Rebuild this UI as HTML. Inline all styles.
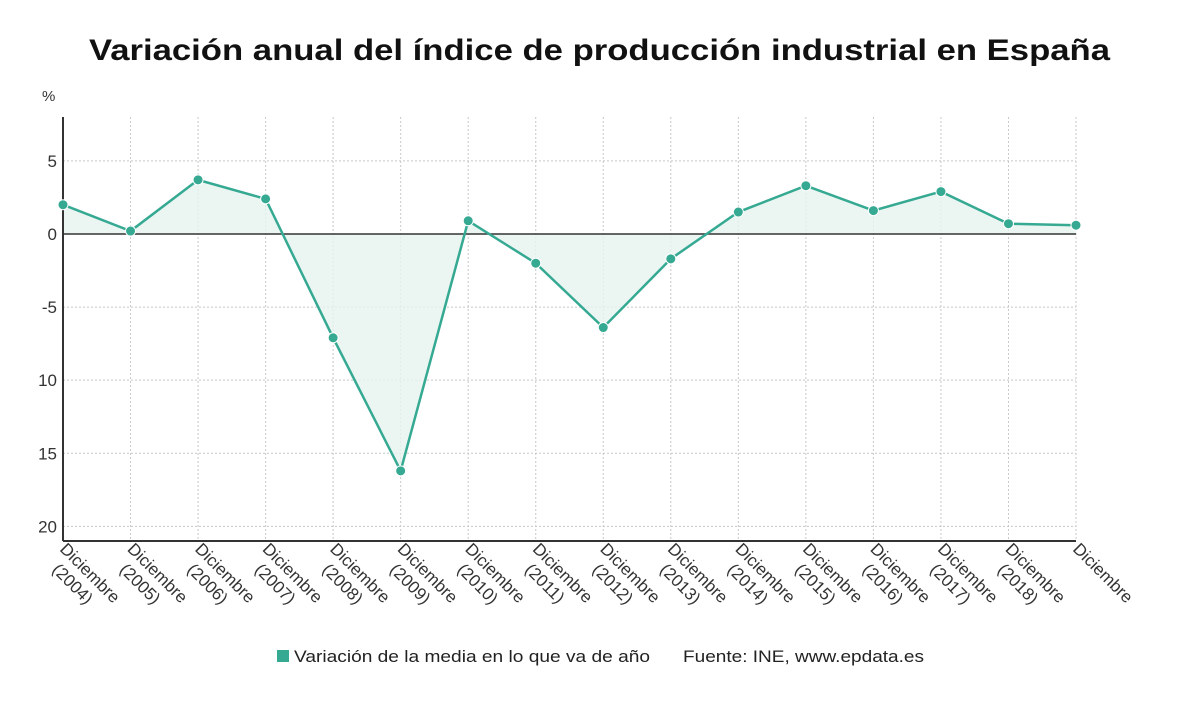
<!DOCTYPE html>
<html><head><meta charset="utf-8"><style>
body{margin:0;background:#fff;width:1200px;height:705px;overflow:hidden;font-family:"Liberation Sans",sans-serif}
</style></head><body>
<svg width="1200" height="705">
<text x="89" y="60" textLength="1021" lengthAdjust="spacingAndGlyphs" font-size="30" font-weight="bold" fill="#111">Variación anual del índice de producción industrial en España</text>
<text x="42" y="101" font-size="15" fill="#333">%</text>
<g id="grid"></g><g id="area"></g><g id="axes"></g><g id="series"></g><g id="labels"></g>
<g>
<rect x="277" y="650" width="12" height="12" fill="#35a992"/>
<text x="294" y="662" textLength="356" lengthAdjust="spacingAndGlyphs" font-size="17" fill="#222">Variación de la media en lo que va de año</text>
<text x="683" y="662" textLength="241" lengthAdjust="spacingAndGlyphs" font-size="17" fill="#222">Fuente: INE, www.epdata.es</text>
</g>
</svg>
<script>
const categories=["(2004)","(2005)","(2006)","(2007)","(2008)","(2009)","(2010)","(2011)","(2012)","(2013)","(2014)","(2015)","(2016)","(2017)","(2018)",""];
const values=[2.0,0.2,3.7,2.4,-7.1,-16.2,0.9,-2.0,-6.4,-1.7,1.5,3.3,1.6,2.9,0.7,0.6];
const yTicks=[5,0,-5,-10,-15,-20];
const yTickLabels=["5","0","-5","10","15","20"];
const yMin=-21,yMax=8;
const X0=63,X1=1076,Y0=117,Y1=541;
const ns="http://www.w3.org/2000/svg";
function xs(i){return X0+(X1-X0)*i/(categories.length-1);}
function ys(v){return Y0+(yMax-v)/(yMax-yMin)*(Y1-Y0);}
function mk(t,a,p){const e=document.createElementNS(ns,t);for(const k in a)e.setAttribute(k,a[k]);p.appendChild(e);return e;}
const grid=document.getElementById('grid'),axes=document.getElementById('axes'),series=document.getElementById('series'),labels=document.getElementById('labels'),area=document.getElementById('area');
yTicks.forEach((t,i)=>{
 if(t!==0){const l=mk('line',{x1:X0,x2:X1,y1:ys(t),y2:ys(t),stroke:'#c8c8c8','stroke-dasharray':'2,2'},grid);
 
 }
 const tx=mk('text',{x:57,y:ys(t)+6,'text-anchor':'end','font-size':17,fill:'#333'},labels);
 tx.textContent=yTickLabels[i];
 
 
});
categories.forEach((c,i)=>{
 if(i>0){const l=mk('line',{x1:xs(i),x2:xs(i),y1:Y0,y2:Y1,stroke:'#c8c8c8','stroke-dasharray':'2,2'},grid);
 
 }
 const g=mk('text',{transform:`translate(${xs(i)-4},${Y1+9}) rotate(45)`,'font-size':17,fill:'#333'},labels);
 const t1=mk('tspan',{x:0,dy:0},g);t1.textContent='Diciembre';
 const t2=mk('tspan',{x:9,dy:20},g);t2.textContent=c;
 
 
});
let pts=values.map((v,i)=>[xs(i),ys(v)]);
let d='M'+xs(0)+','+ys(0)+' '+pts.map(p=>'L'+p[0]+','+p[1]).join(' ')+' L'+xs(values.length-1)+','+ys(0)+'Z';
const a=mk('path',{d:d,fill:'#e6f4f0',opacity:0.8},area);


const ax=mk('line',{x1:X0,x2:X0,y1:Y0,y2:Y1,stroke:'#333','stroke-width':2},axes);


const bx=mk('line',{x1:X0,x2:X1,y1:Y1,y2:Y1,stroke:'#333','stroke-width':2},axes);


const zl=mk('line',{x1:X0,x2:X1,y1:ys(0),y2:ys(0),stroke:'#333','stroke-width':1.5},axes);


const pl=mk('polyline',{points:pts.map(p=>p.join(',')).join(' '),fill:'none',stroke:'#35a992','stroke-width':2.5},series);


pts.forEach(p=>{const c=mk('circle',{cx:p[0],cy:p[1],r:5,fill:'#35a992',stroke:'#fff','stroke-width':1},series);
 
 });
</script>
</body></html>
